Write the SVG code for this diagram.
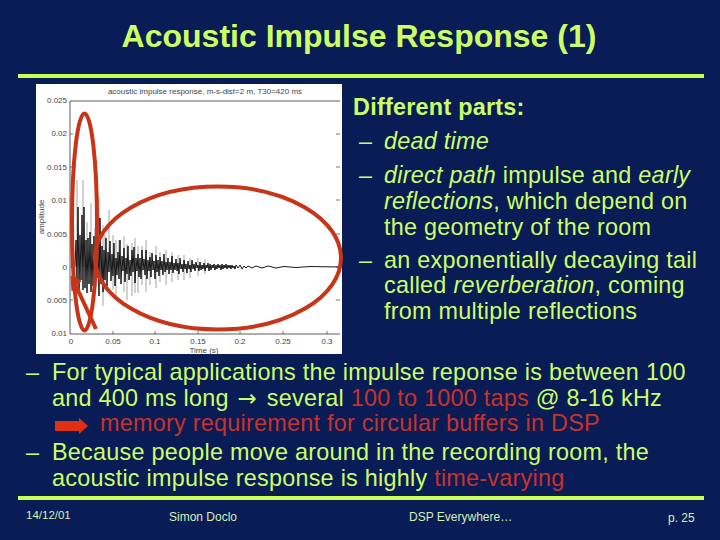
<svg xmlns="http://www.w3.org/2000/svg" width="720" height="540" viewBox="0 0 720 540">
<style>
text{font-family:"Liberation Sans",Arial,sans-serif;fill:#ccff66}
.b{font-size:23.4px;letter-spacing:.25px}
.r{fill:#c8322a}
.i{font-style:italic}
.f{font-size:12px;fill:#d4f0b4}
.a{font-size:8px;fill:#444}
.red{fill:none;stroke:#c83418;stroke-width:4}
</style>
<rect width="720" height="540" fill="#091c56"/>
<text x="359" y="47" text-anchor="middle" font-size="32" font-weight="bold">Acoustic Impulse Response (1)</text>
<rect x="18" y="74" width="686" height="4" fill="#ccff55"/>
<g id="plot">
<rect x="36" y="84" width="306" height="270" fill="#fff"/>
<path d="M70 334V101H340M70 334H340" fill="none" stroke="#333" stroke-width=".8"/>
<path d="M70 134h3M70 167h3M70 200h3M70 234h3M70 267h3M70 300h3M336 134h4M336 167h4M336 200h4M336 234h4M336 267h4M336 300h4M113 334v-3M155 334v-3M198 334v-3M240 334v-3M283 334v-3M327 334v-3" stroke="#555" stroke-width=".8"/>
<path d="M77 267V180M83 267V180M87 267V222M91 267V203M95 267V228M99 267V197M103 306V225M105 290V235M109 267V210M113 290V235M116 296V240M119 267V240M124 292V236M127 300V244M132 296V243M135 293V238M138 293V246M142 285V246M146 292V240M150 285V252M156 288V246M160 282V252M166 285V250M172 282V252M178 280V255M184 280V255M190 278V258M198 276V258M205 274V259" stroke="#999" stroke-width=".9"/>
<path d="M75 267L76 240 77 284 78 207 79 292 80 235 81 280 82 215 83 290 84 207 85 288 86 240 87 293 88 238 89 284 90 232 91 292 92 244 93 286 94 236 95 290 96 228 97 278 98 242 99 296 100 218 101 284 102 246 103 292 104 250 105 280 106 238 107 286 108 252 109 272 110 241 111 281 112 254 113 276 114 243 115 286 116 258 117 275 118 252 119 279 120 240 121 284 122 256 123 271 124 248 125 282 126 258 127 274 128 246 129 280 130 260 131 276 132 250 133 272 134 247 135 283 136 258 137 271 138 254 139 277 140 258 141 279 142 250 143 270 144 259 145 275 146 250 147 279 148 260 149 271 150 257 151 277 152 253 153 270 154 261 155 279 156 255 157 272 158 260 159 276 160 257 161 270 162 261 163 275 164 254 165 272 166 262 167 270 168 258 169 274 170 262 171 270 172 256 173 273 174 263 175 270 176 259 177 271 178 263 179 274 180 258 181 269 182 264 183 272 184 260 185 269 186 264 187 273 188 261 189 269 190 265 191 272 192 260 193 269 194 264 195 271 196 262 197 268 198 265 199 271 200 262 201 270 202 265 203 269 204 263 205 271 206 265 207 268 208 263 209 271 210 264 211 270 212 265 213 268 214 264 215 270 216 265 217 269 218 264 219 268 220 265 221 270 222 264 223 269 224 265 225 268 226 264 227 269 228 265 229 268 230 265 231 269 232 265 233 268 234 266 235 269 236 265 238 268 240 265 242 269 244 266 246 268 248 266 252 268 256 266 262 268 268 266 276 268 284 266.5 296 267.5 310 266.5 340 267" fill="none" stroke="#000" stroke-width=".9"/>
<text class="a" x="205" y="94" text-anchor="middle">acoustic impulse response, m-s-dist=2 m, T30=420 ms</text>
<g text-anchor="end">
<text class="a" x="67" y="103">0.025</text><text class="a" x="67" y="136">0.02</text><text class="a" x="67" y="170">0.015</text><text class="a" x="67" y="203">0.01</text><text class="a" x="67" y="237">0.005</text><text class="a" x="67" y="270">0</text><text class="a" x="67" y="303">0.005</text><text class="a" x="67" y="336">0.01</text>
</g>
<g text-anchor="middle">
<text class="a" x="71" y="344">0</text><text class="a" x="113" y="344">0.05</text><text class="a" x="155" y="344">0.1</text><text class="a" x="198" y="344">0.15</text><text class="a" x="240" y="344">0.2</text><text class="a" x="283" y="344">0.25</text><text class="a" x="327" y="344">0.3</text>
<text class="a" x="204" y="353">Time (s)</text>
<text class="a" transform="translate(44 217) rotate(-90)">amplitude</text>
</g>
</g>
<g id="annotations">
<ellipse class="red" cx="84.5" cy="222" rx="12.5" ry="108.5"/>
<ellipse class="red" cx="218" cy="258" rx="123" ry="71.5"/>
<path class="red" d="M96 329L76 286"/>
<path d="M71 276L81 281 72 291Z" fill="#c83418" stroke="#c83418"/>
</g>
<g id="right-text">
<text class="b" x="353" y="115" font-weight="bold">Different parts:</text>
<text class="b" x="359" y="149">–</text><text class="b i" x="384" y="149">dead time</text>
<text class="b" x="359" y="183">–</text><text class="b" x="384" y="183"><tspan class="i">direct path</tspan> impulse and <tspan class="i">early</tspan></text>
<text class="b" x="384" y="209"><tspan class="i">reflections</tspan>, which depend on</text>
<text class="b" x="384" y="235">the geometry of the room</text>
<text class="b" x="359" y="268">–</text><text class="b" x="384" y="268">an exponentially decaying tail</text>
<text class="b" x="384" y="293">called <tspan class="i">reverberation</tspan>, coming</text>
<text class="b" x="384" y="319">from multiple reflections</text>
</g>
<g id="bottom-text">
<text class="b" x="26" y="380">–</text><text class="b" x="52" y="380">For typical applications the impulse reponse is between 100</text>
<text class="b" x="52" y="406">and 400 ms long <tspan style="font-family:'DejaVu Sans',sans-serif;font-size:23px" dx="2">→</tspan><tspan dx="3"> several </tspan><tspan class="r">100 to 1000 taps</tspan> @ 8-16 kHz</text>
<path d="M55 421H79V418L88 426 79 434V431H55Z" fill="#e03010"/>
<text class="b r" x="100" y="431">memory requirement for circular buffers in DSP</text>
<text class="b" x="26" y="460">–</text><text class="b" x="52" y="460">Because people move around in the recording room, the</text>
<text class="b" x="52" y="486">acoustic impulse response is highly <tspan class="r">time-varying</tspan></text>
</g>
<rect x="18" y="496" width="686" height="4" fill="#ccff55"/>
<g id="footer">
<text class="f" x="26" y="519" style="font-size:11.5px">14/12/01</text>
<text class="f" x="169" y="521">Simon Doclo</text>
<text class="f" x="409" y="521">DSP Everywhere…</text>
<text class="f" x="668" y="522">p. 25</text>
</g>
</svg>
